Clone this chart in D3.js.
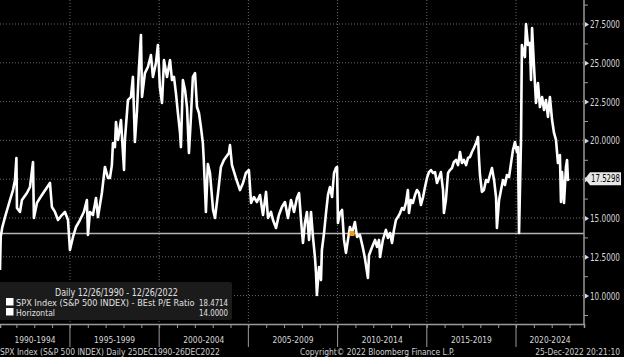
<!DOCTYPE html>
<html>
<head>
<meta charset="utf-8">
<script src="https://cdn.jsdelivr.net/npm/d3@7"></script>
<style>
body { margin: 0; background: #000; }
text { font-family: "Liberation Sans Narrow", "DejaVu Sans Condensed", "Liberation Sans", sans-serif; }
</style>
</head>
<body>
<div id="chart"></div>
<script>
var width = 624;
var height = 357;
var plotRight = 584;
var plotBottom = 324;

// SPX Index BEst P/E Ratio (decimal year, ratio)
var dates = [
  1991.08, 1991.12, 1991.20, 1991.36, 1991.64, 1991.81, 1991.92, 1992.00, 1992.03, 1992.20,
  1992.31, 1992.59, 1992.76, 1992.93, 1992.98, 1993.15, 1993.32, 1993.54, 1993.88, 1993.99,
  1994.16, 1994.33, 1994.55, 1994.72, 1994.89, 1995.00, 1995.17, 1995.34, 1995.56, 1995.78,
  1995.95, 1996.01, 1996.12, 1996.29, 1996.46, 1996.57, 1996.79, 1996.96, 1997.13, 1997.24,
  1997.35, 1997.41, 1997.52, 1997.58, 1997.69, 1997.86, 1998.03, 1998.08, 1998.25, 1998.42,
  1998.53, 1998.64, 1998.76, 1998.87, 1998.98, 1999.04, 1999.20, 1999.37, 1999.54, 1999.65,
  1999.82, 1999.93, 2000.04, 2000.16, 2000.27, 2000.44, 2000.61, 2000.72, 2000.83, 2000.94,
  2001.05, 2001.17, 2001.22, 2001.33, 2001.45, 2001.56, 2001.67, 2001.78, 2001.89, 2002.01,
  2002.12, 2002.23, 2002.34, 2002.45, 2002.50, 2002.57, 2002.62, 2002.73, 2002.85, 2003.02,
  2003.13, 2003.30, 2003.46, 2003.63, 2003.91, 2003.97, 2004.08, 2004.30, 2004.53, 2004.70,
  2004.86, 2005.03, 2005.15, 2005.31, 2005.48, 2005.65, 2005.82, 2005.99, 2006.10, 2006.27,
  2006.38, 2006.55, 2006.71, 2006.88, 2007.05, 2007.22, 2007.39, 2007.56, 2007.72, 2007.84,
  2007.95, 2008.06, 2008.17, 2008.28, 2008.40, 2008.51, 2008.62, 2008.73, 2008.79, 2008.84,
  2008.96, 2009.07, 2009.12, 2009.24, 2009.35, 2009.46, 2009.57, 2009.69, 2009.80, 2009.91,
  2009.97, 2010.02, 2010.13, 2010.25, 2010.36, 2010.47, 2010.58, 2010.69, 2010.81, 2010.97,
  2011.09, 2011.25, 2011.42, 2011.53, 2011.70, 2011.76, 2011.87, 2011.98, 2012.10, 2012.21,
  2012.32, 2012.38, 2012.54, 2012.71, 2012.82, 2012.94, 2013.05, 2013.16, 2013.27, 2013.38,
  2013.50, 2013.61, 2013.72, 2013.83, 2013.94, 2014.00, 2014.11, 2014.22, 2014.34, 2014.45,
  2014.56, 2014.67, 2014.79, 2014.90, 2015.01, 2015.12, 2015.23, 2015.35, 2015.46, 2015.57,
  2015.68, 2015.79, 2015.91, 2015.96, 2016.07, 2016.19, 2016.30, 2016.41, 2016.52, 2016.64,
  2016.75, 2016.86, 2016.97, 2017.08, 2017.20, 2017.31, 2017.42, 2017.53, 2017.64, 2017.76,
  2017.87, 2017.92, 2017.98, 2018.09, 2018.20, 2018.32, 2018.43, 2018.54, 2018.65, 2018.77,
  2018.88, 2018.93, 2019.05, 2019.16, 2019.27, 2019.38, 2019.49, 2019.61, 2019.72, 2019.83,
  2019.94, 2020.05, 2020.11, 2020.17, 2020.28, 2020.33, 2020.39, 2020.50, 2020.56, 2020.67,
  2020.78, 2020.84, 2020.90, 2021.01, 2021.12, 2021.23, 2021.34, 2021.46, 2021.57, 2021.68,
  2021.79, 2021.90, 2022.02, 2022.13, 2022.24, 2022.35, 2022.46, 2022.52, 2022.58, 2022.69,
  2022.80, 2022.86, 2022.91, 2022.97
];
var peRatio = [
  11.65, 13.78, 14.36, 15.06, 16.16, 16.80, 17.45, 18.87, 15.64, 15.39,
  16.16, 16.61, 17.00, 18.61, 15.00, 15.97, 16.29, 16.68, 17.26, 15.71,
  15.39, 14.87, 15.19, 15.39, 14.87, 12.94, 13.78, 14.42, 14.87, 15.39,
  16.16, 13.91, 15.39, 15.19, 16.29, 15.06, 16.61, 18.29, 17.58, 17.58,
  18.41, 19.83, 19.57, 21.19, 20.03, 21.31, 18.09, 20.03, 22.60, 22.80,
  24.09, 19.90, 21.96, 24.73, 26.79, 22.80, 24.34, 24.73, 25.50, 24.09,
  24.99, 26.15, 23.44, 22.41, 25.18, 24.09, 25.18, 23.89, 24.09, 23.05,
  21.77, 20.48, 19.57, 23.89, 23.25, 22.15, 19.19, 21.51, 24.09, 24.34,
  22.15, 21.77, 20.86, 19.83, 18.74, 16.80, 15.39, 18.48, 17.90, 15.52,
  15.00, 16.61, 18.29, 18.74, 19.19, 19.70, 18.41, 17.58, 16.80, 17.26,
  17.90, 18.09, 15.97, 16.35, 16.03, 16.48, 15.19, 16.68, 15.00, 15.39,
  14.87, 14.36, 15.19, 15.71, 16.03, 15.00, 16.16, 15.39, 16.29, 16.61,
  14.87, 13.39, 14.68, 15.39, 13.59, 15.39, 13.78, 12.49, 11.46, 10.04,
  11.84, 11.00, 12.94, 14.03, 15.32, 16.48, 17.00, 16.35, 17.90, 18.22,
  18.29, 14.68, 15.32, 15.52, 13.59, 12.75, 13.59, 14.42, 14.03, 14.74,
  13.78, 13.91, 13.07, 12.42, 11.13, 12.60, 12.94, 13.26, 13.59, 13.13,
  13.59, 12.49, 13.59, 14.23, 13.72, 14.03, 13.39, 14.23, 14.87, 15.06,
  15.32, 15.64, 15.52, 15.97, 16.80, 15.32, 16.16, 15.97, 16.48, 16.80,
  16.61, 15.84, 16.35, 17.00, 17.58, 17.96, 18.09, 17.90, 17.96, 17.26,
  17.58, 17.96, 16.80, 15.32, 16.16, 17.90, 18.09, 18.22, 18.61, 18.74,
  18.41, 19.25, 18.54, 18.74, 18.41, 18.87, 18.93, 19.25, 19.51, 19.83,
  20.22, 18.93, 17.77, 16.68, 16.80, 17.45, 17.32, 17.77, 18.22, 17.45,
  16.35, 14.36, 16.16, 16.80, 17.45, 17.13, 17.77, 17.64, 18.54, 19.38,
  19.90, 19.25, 19.57, 14.03, 20.03, 26.15, 25.82, 25.37, 27.50, 26.15,
  26.28, 23.89, 27.24, 24.73, 22.41, 23.70, 22.15, 22.80, 21.96, 22.60,
  21.51, 22.80, 21.31, 20.48, 20.03, 18.54, 19.06, 16.03, 17.96, 15.97,
  18.29, 18.74, 17.45, 17.53
];

var yTicks = [10, 12.5, 15, 17.5, 20, 22.5, 25, 27.5];
var yMinorTicks = [8.75, 11.25, 13.75, 16.25, 18.75, 21.25, 23.75, 26.25, 28.75];
var yearTicks = d3.range(1991, 2024);
var periodBreaks = [1995, 2000, 2005, 2010, 2015, 2020];
var periodLabels = ["1990-1994", "1995-1999", "2000-2004", "2005-2009", "2010-2014", "2015-2019", "2020-2024"];
var horizontalLevel = 14;
var lastValue = 17.5298;
var markerDate = 2010.81;
var markerValue = 14;
var legendTitle = "Daily 12/26/1990 - 12/26/2022";
var legendNames = ["SPX Index (S&P 500 INDEX) - BEst P/E Ratio", "Horizontal"];
var legendValues = ["18.4714", "14.0000"];

var data = dates.map(function(d, i) { return {date: d, value: peRatio[i]}; });

// the terminal font is narrow: squeeze a text to a given width with a scale
function squeeze(text, x0, y0, w) {
  var natural = text.node().getComputedTextLength();
  var k = Math.min(1, w / natural);
  text.attr("x", null).attr("y", null)
    .attr("transform", "translate(" + x0 + "," + y0 + ") scale(" + k + ",1)");
  return text;
}

var x = d3.scaleLinear()
  .domain([1991.08, 2023.81])
  .range([0, plotRight]);

var y = d3.scaleLinear()
  .domain([10, 27.5])
  .range([295.6, 24]);

var svg = d3.select("#chart").append("svg")
  .attr("width", width)
  .attr("height", height);

svg.append("rect")
  .attr("width", width)
  .attr("height", height)
  .attr("fill", "#000");

svg.append("clipPath")
  .attr("id", "plotclip")
  .append("rect")
  .attr("x", 0).attr("y", 0)
  .attr("width", plotRight).attr("height", plotBottom);

// dotted grid
svg.append("g").selectAll("line")
  .data(yTicks)
  .enter().append("line")
  .attr("x1", 0).attr("x2", plotRight)
  .attr("y1", function(d) { return y(d); })
  .attr("y2", function(d) { return y(d); })
  .attr("stroke", "#6a6a6a")
  .attr("stroke-dasharray", "1,2");

svg.append("g").selectAll("line")
  .data(periodBreaks)
  .enter().append("line")
  .attr("x1", function(d) { return x(d); })
  .attr("x2", function(d) { return x(d); })
  .attr("y1", 0).attr("y2", plotBottom)
  .attr("stroke", "#6a6a6a")
  .attr("stroke-dasharray", "1,2");

// horizontal level line
svg.append("line")
  .attr("x1", 0).attr("x2", plotRight)
  .attr("y1", y(horizontalLevel)).attr("y2", y(horizontalLevel))
  .attr("stroke", "#b4b4b4")
  .attr("stroke-width", 1.6);

var line = d3.line()
  .x(function(d) { return x(d.date); })
  .y(function(d) { return y(d.value); });

svg.append("path")
  .datum(data)
  .attr("clip-path", "url(#plotclip)")
  .attr("fill", "none")
  .attr("stroke", "#fff")
  .attr("stroke-width", 2.6)
  .attr("stroke-linejoin", "round")
  .attr("d", line);

svg.append("rect")
  .attr("x", x(markerDate) - 2.5)
  .attr("y", y(markerValue) - 2.5)
  .attr("width", 5).attr("height", 5)
  .attr("fill", "#f39c12");

// right axis
var yAxis = svg.append("g")
  .attr("transform", "translate(" + plotRight + ",0)")
  .call(d3.axisRight(y).tickValues(yTicks).tickFormat(d3.format(".4f")).tickSize(0).tickPadding(0));
yAxis.select(".domain").remove();
yAxis.selectAll(".tick").filter(function(d) { return d === 17.5; }).select("text").remove();
yAxis.selectAll("text")
  .attr("dy", null)
  .attr("fill", "#d8d8d8")
  .attr("font-size", 10)
  .each(function() { squeeze(d3.select(this), 6, 3.5, 30); });
yAxis.selectAll(".tick").append("path")
  .attr("d", "M1,-2.5L5,0L1,2.5Z")
  .attr("fill", "#d8d8d8");

var yMinor = svg.append("g")
  .attr("transform", "translate(" + plotRight + ",0)")
  .call(d3.axisRight(y).tickValues(yMinorTicks).tickFormat("").tickSize(4));
yMinor.select(".domain").remove();
yMinor.selectAll("line").attr("stroke", "#999");

svg.append("line")
  .attr("x1", plotRight).attr("x2", plotRight)
  .attr("y1", 0).attr("y2", plotBottom)
  .attr("stroke", "#9a9a9a")
  .attr("stroke-width", 1.5);

// last value tag
var ly = y(lastValue);
svg.append("path")
  .attr("d", "M585," + ly + "L590," + (ly - 6.5) + "L621," + (ly - 6.5) + "L621," + (ly + 6.5) + "L590," + (ly + 6.5) + "Z")
  .attr("fill", "#e8e8e8");
squeeze(svg.append("text")
  .attr("font-size", 10)
  .attr("fill", "#000")
  .text(d3.format(".4f")(lastValue)), 591, ly + 3.5, 29);

// bottom axis
var xAxis = svg.append("g")
  .attr("transform", "translate(0," + plotBottom + ")")
  .call(d3.axisBottom(x).tickValues(yearTicks).tickFormat("").tickSize(4));
xAxis.select(".domain").attr("stroke", "#9a9a9a").attr("stroke-width", 1.5);
xAxis.selectAll("line").attr("stroke", "#9a9a9a");

svg.append("g").selectAll("line")
  .data(periodBreaks)
  .enter().append("line")
  .attr("x1", function(d) { return x(d); })
  .attr("x2", function(d) { return x(d); })
  .attr("y1", plotBottom).attr("y2", 347)
  .attr("stroke", "#9a9a9a");

var bounds = [x.domain()[0]].concat(periodBreaks).concat([x.domain()[1]]);
svg.append("g").selectAll("text")
  .data(periodLabels)
  .enter().append("text")
  .attr("text-anchor", "middle")
  .attr("font-size", 9.5)
  .attr("fill", "#d8d8d8")
  .text(function(d) { return d; })
  .each(function(d, i) {
    squeeze(d3.select(this), (x(bounds[i]) + x(bounds[i + 1])) / 2, 343, 41);
  });

// legend
var legend = svg.append("g");
legend.append("rect")
  .attr("x", -3).attr("y", 282)
  .attr("width", 235).attr("height", 38)
  .attr("rx", 2)
  .attr("fill", "#1b1b1b");
squeeze(legend.append("text")
  .attr("font-size", 10).attr("fill", "#e0e0e0")
  .text(legendTitle), 55, 296, 123);
legendNames.forEach(function(name, i) {
  var ty = 306 + i * 10;
  legend.append("rect")
    .attr("x", 6).attr("y", ty - 8)
    .attr("width", 7.5).attr("height", 7.5)
    .attr("fill", "#fff");
  squeeze(legend.append("text")
    .attr("font-size", 9.5).attr("fill", "#e0e0e0")
    .text(name), 16, ty, i === 0 ? 179 : 39);
  squeeze(legend.append("text")
    .attr("text-anchor", "end")
    .attr("font-size", 9.5).attr("fill", "#e0e0e0")
    .text(legendValues[i]), 228, ty, 29);
});

// footer
squeeze(svg.append("text")
  .attr("font-size", 9.5).attr("fill", "#cfcfcf")
  .text("SPX Index (S&P 500 INDEX)  Daily 25DEC1990-26DEC2022"), 0, 354.5, 220);
squeeze(svg.append("text")
  .attr("font-size", 9.5).attr("fill", "#cfcfcf")
  .text("Copyright\u00a9 2022 Bloomberg Finance L.P."), 300, 354.5, 155);
squeeze(svg.append("text")
  .attr("text-anchor", "end")
  .attr("font-size", 9.5).attr("fill", "#cfcfcf")
  .text("25-Dec-2022 20:21:10"), 620, 354.5, 85);
</script>
</body>
</html>
